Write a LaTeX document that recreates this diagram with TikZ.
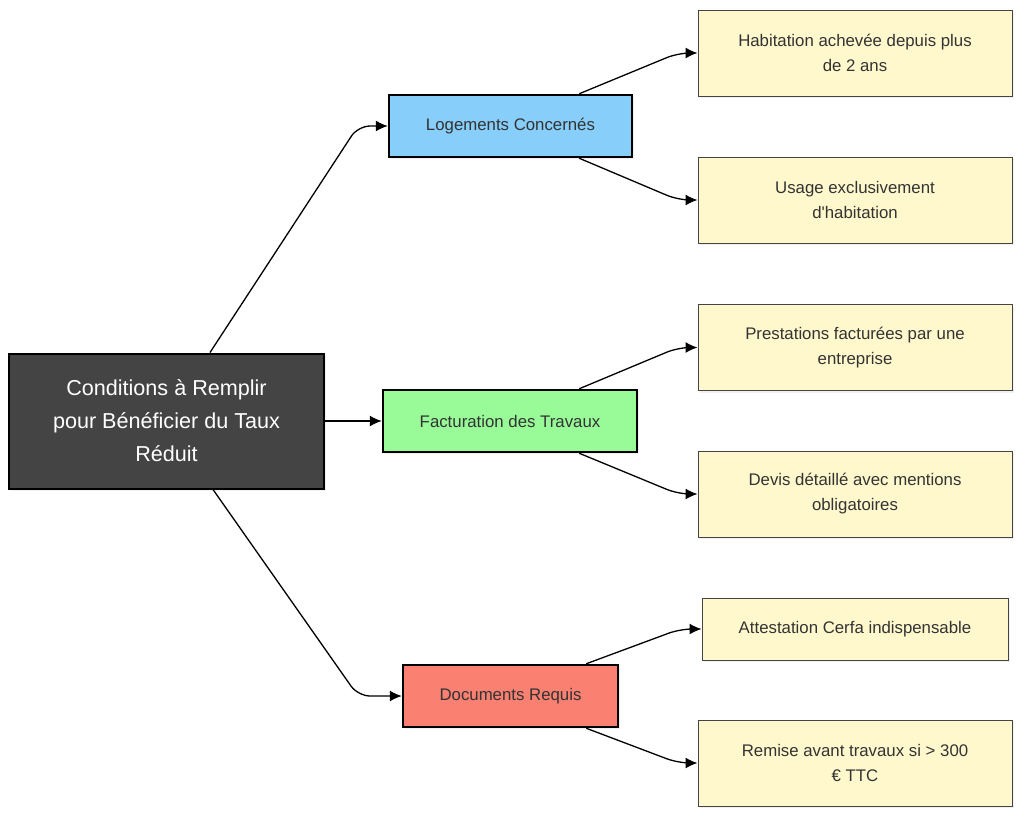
\documentclass[tikz,border=0pt]{standalone}
\usepackage{fontspec}
\setmainfont{Liberation Sans}
\usetikzlibrary{arrows.meta,shadows}
\definecolor{rootgray}{HTML}{444444}
\definecolor{txtgray}{HTML}{333333}
\definecolor{logblue}{HTML}{87CEFA}
\definecolor{facgreen}{HTML}{98FB98}
\definecolor{docred}{HTML}{FA8072}
\definecolor{leafyellow}{HTML}{FFF8CD}
\definecolor{leafborder}{HTML}{444444}
\tikzset{
  base/.style={rectangle, draw, align=center, inner sep=0pt,
    drop shadow={opacity=.12, shadow xshift=2pt, shadow yshift=-2pt}},
  rootbox/.style={base, fill=rootgray, draw=black, line width=2pt, text=white,
    minimum width=315pt, minimum height=135pt, font=\fontsize{21.6}{33}\selectfont},
  midbox/.style={base, draw=black, line width=2.5pt, text=txtgray,
    minimum height=62pt, font=\fontsize{16.8}{25}\selectfont},
  leafbox/.style={base, fill=leafyellow, draw=leafborder, line width=1pt, text=txtgray,
    minimum width=314pt, minimum height=86pt, font=\fontsize{16.8}{25}\selectfont},
  link/.style={->, line width=1.3pt, rounded corners=12pt}
}
\begin{document}
\begin{tikzpicture}[x=1pt, y=-1pt, >={Latex[length=12pt,width=11pt]}]
    \useasboundingbox (0,0) rectangle (1024,819);
    % root and the three groups
    \node[rootbox] (root) at (166.5,421) {Conditions à Remplir\\pour Bénéficier du Taux\\Réduit};
    \node[midbox, fill=logblue, minimum width=243pt] (log) at (510.5,126) {Logements Concernés};
    \node[midbox, fill=facgreen, minimum width=254pt] (fac) at (510,421) {Facturation des Travaux};
    \node[midbox, fill=docred, minimum width=215pt] (doc) at (510.5,696) {Documents Requis};
    % leaves
    \node[leafbox] (hab) at (855,53) {Habitation achevée depuis plus\\de 2 ans};
    \node[leafbox] (usage) at (855,200) {Usage exclusivement\\d\textquotesingle habitation};
    \node[leafbox] (prest) at (855,347.5) {Prestations facturées par une\\entreprise};
    \node[leafbox] (devis) at (855,494) {Devis détaillé avec mentions\\obligatoires};
    \node[leafbox, minimum width=306pt, minimum height=62pt] (cerfa) at (855,629) {Attestation Cerfa indispensable};
    \node[leafbox] (remise) at (855,763) {Remise avant travaux si > 300\\€ TTC};
    % links from the root
    \draw[link] ([xshift=43.5pt]root.north) -- (358,126) -- (log.west);
    \draw[link] (root.east) -- (fac.west);
    \draw[link] ([xshift=46.5pt]root.south) -- (358,696) -- (doc.west);
    % links to the leaves
    \draw[link] ([xshift=-54pt]log.north east) -- (678,53) -- (hab.west);
    \draw[link] ([xshift=-54pt]log.south east) -- (678,200) -- (usage.west);
    \draw[link] ([xshift=-59pt]fac.north east) -- (678,347.5) -- (prest.west);
    \draw[link] ([xshift=-59pt]fac.south east) -- (678,494) -- (devis.west);
    \draw[link] ([xshift=-33pt]doc.north east) -- (680,629) -- (cerfa.west);
    \draw[link] ([xshift=-33pt]doc.south east) -- (678,763) -- (remise.west);
\end{tikzpicture}
\end{document}
